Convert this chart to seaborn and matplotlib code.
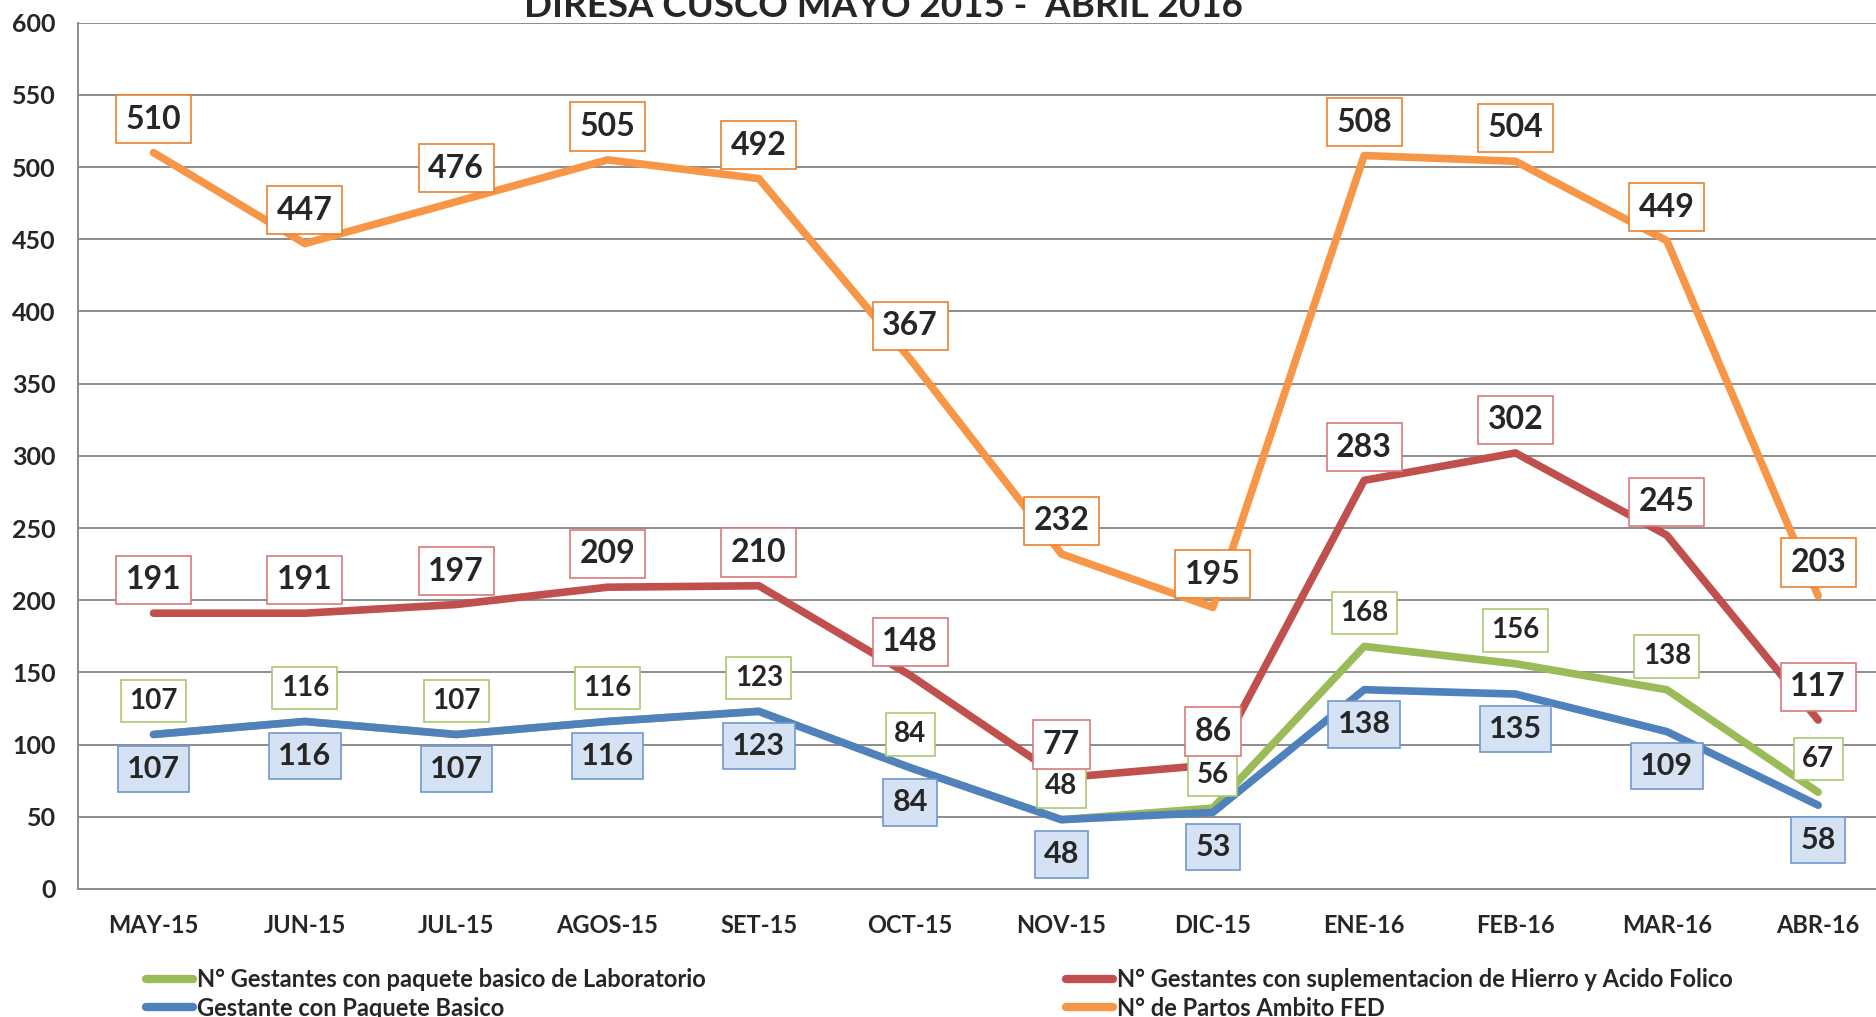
import pandas as pd
import matplotlib.pyplot as plt
import seaborn as sns
from matplotlib.lines import Line2D


meses = ['MAY-15', 'JUN-15', 'JUL-15', 'AGOS-15', 'SET-15', 'OCT-15',
         'NOV-15', 'DIC-15', 'ENE-16', 'FEB-16', 'MAR-16', 'ABR-16']

laboratorio = [107, 116, 107, 116, 123, 84, 48, 56, 168, 156, 138, 67]
hierro = [191, 191, 197, 209, 210, 148, 77, 86, 283, 302, 245, 117]
paquete = [107, 116, 107, 116, 123, 84, 48, 53, 138, 135, 109, 58]
partos = [510, 447, 476, 505, 492, 367, 232, 195, 508, 504, 449, 203]

series = [
    ('N° Gestantes con paquete basico de Laboratorio', laboratorio),
    ('N° Gestantes con suplementacion de Hierro y Acido Folico', hierro),
    ('Gestante con Paquete Basico', paquete),
    ('N° de Partos Ambito FED', partos),
]
colores = ['#9BBB59', '#C0504D', '#4F81BD', '#F79646']

# estilo de etiqueta por serie: (borde, fondo, tamaño, desplazamiento)
etiquetas = [
    ('#A9C970', 'white', 20, 24),
    ('#D9797A', 'white', 23, 24),
    ('#6F98CF', '#D5E2F3', 22, -25),
    ('#E9822F', 'white', 23, 24),
]


def main():
    df = pd.concat([
        pd.DataFrame({'mes': meses, 'valor': vals, 'serie': nombre})
        for nombre, vals in series
    ])

    sns.set_style('white')
    plt.rcParams['font.family'] = ['Lato', 'DejaVu Sans']
    plt.rcParams['font.weight'] = 'bold'

    fig = plt.figure(figsize=(18.76, 10.17), dpi=100)
    ax = fig.add_axes([0.0415, 0.1259, 0.968, 0.8518])

    sns.lineplot(data=df, x='mes', y='valor', hue='serie',
                 hue_order=[s[0] for s in series], palette=colores,
                 lw=5.5, sort=False, legend=False, ax=ax,
                 solid_joinstyle='round')

    for (nombre, vals), (borde, fondo, tam, dy) in zip(series, etiquetas):
        for i, v in enumerate(vals):
            ax.annotate(str(v), (i, v), xytext=(0, dy), textcoords='offset points',
                        ha='center', va='center', fontsize=tam, fontweight='bold',
                        zorder=10,
                        bbox=dict(boxstyle='square,pad=0.3', fc=fondo, ec=borde, lw=1.2))

    ax.set_xlim(-0.5, 11.5)
    ax.set_ylim(0, 600)
    ax.set_yticks(range(0, 601, 50))
    ax.set_xlabel('')
    ax.set_ylabel('')
    ax.yaxis.grid(True, color='#8C8C8C', lw=1.4)
    ax.set_axisbelow(True)
    for lado in ['top', 'right']:
        ax.spines[lado].set_visible(False)
    for lado in ['left', 'bottom']:
        ax.spines[lado].set_color('#8C8C8C')
        ax.spines[lado].set_linewidth(1.4)
    ax.tick_params(axis='y', labelsize=18, pad=16, length=0)
    ax.tick_params(axis='x', labelsize=17, pad=18, length=0)
    for t in ax.get_xticklabels() + ax.get_yticklabels():
        t.set_fontweight('bold')

    fig.text(0.471, 0.983, 'DIRESA CUSCO MAYO 2015 -  ABRIL 2016',
             ha='center', va='baseline', fontsize=26.5, fontweight='bold')

    handles = [Line2D([], [], color=c, lw=6) for c in colores]
    nombres = [s[0] for s in series]
    for idx, x in [((0, 2), 0.0716), ((1, 3), 0.562)]:
        leg = fig.legend([handles[j] for j in idx], [nombres[j] for j in idx],
                         loc='upper left', bbox_to_anchor=(x, 0.060),
                         frameon=False, fontsize=17, handlelength=2.0,
                         handletextpad=0.15, labelspacing=0.25, borderpad=0)
        for t in leg.get_texts():
            t.set_fontweight('bold')

    fig.savefig('out.png', dpi=100)


if __name__ == "__main__":
    main()
